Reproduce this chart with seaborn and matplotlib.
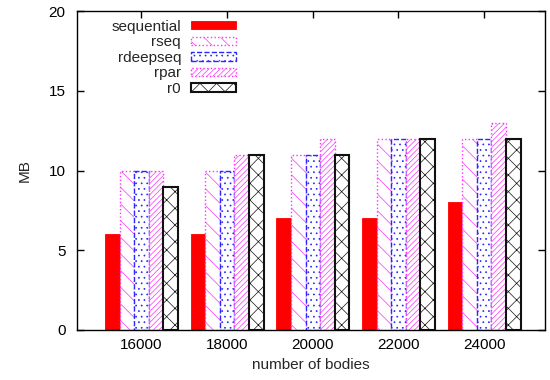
import matplotlib
matplotlib.use("Agg")
import matplotlib.pyplot as plt
import seaborn as sns
import pandas as pd
from matplotlib.patches import Patch

bodies = ["16000", "18000", "20000", "22000", "24000"]
series = ["sequential", "rseq", "rdeepseq", "rpar", "r0"]
sequential = [6, 6, 7, 7, 8]
rseq = [10, 10, 11, 12, 12]
rdeepseq = [10, 10, 11, 12, 12]
rpar = [10, 11, 12, 12, 13]
r0 = [9, 11, 11, 12, 12]
values = {"sequential": sequential, "rseq": rseq, "rdeepseq": rdeepseq,
          "rpar": rpar, "r0": r0}

rows = []
for s in series:
    for b, v in zip(bodies, values[s]):
        rows.append({"bodies": b, "series": s, "MB": v})
df = pd.DataFrame(rows)

sns.set_style("ticks")
plt.rcParams['font.family'] = ['Liberation Sans', 'DejaVu Sans']
plt.rcParams['hatch.linewidth'] = 0.5

styles = {
    "sequential": dict(facecolor="#ff0000", edgecolor="#ff0000", hatch=None, linestyle="-", linewidth=0.6),
    "rseq": dict(facecolor="white", edgecolor="#ff30ff", hatch="\\\\", linestyle=":", linewidth=1.0),
    "rdeepseq": dict(facecolor="white", edgecolor="#2828ff", hatch="...", linestyle="--", linewidth=1.0),
    "rpar": dict(facecolor="white", edgecolor="#ff30ff", hatch="//////", linestyle=":", linewidth=1.0),
    "r0": dict(facecolor="white", edgecolor="#111111", hatch="xx", linestyle="-", linewidth=1.5),
}

fig = plt.figure(figsize=(5.5, 3.8), dpi=100)
ax = fig.add_axes([0.1395, 0.1316, 0.852, 0.839])

sns.barplot(data=df, x="bodies", y="MB", hue="series", order=bodies,
            hue_order=series, width=0.85, ax=ax, legend=False, errorbar=None,
            saturation=1)

for s, cont in zip(series, ax.containers):
    st = styles[s]
    for p in cont:
        p.set_facecolor(st["facecolor"])
        p.set_edgecolor(st["edgecolor"])
        p.set_linestyle(st["linestyle"])
        p.set_linewidth(st["linewidth"])
        if st["hatch"]:
            p.set_hatch(st["hatch"])

ax.set_xlim(-0.756, 4.714)
ax.set_ylim(0, 20)
ax.set_yticks([0, 5, 10, 15, 20])
ax.set_xlabel("number of bodies", fontsize=11, labelpad=4)
ax.set_ylabel("MB", fontsize=11, labelpad=12)
ax.tick_params(direction="in", length=5, width=1, top=True, right=True,
               labelsize=11, colors="black")
ax.tick_params(axis="x", pad=6)
ax.tick_params(axis="y", pad=8)
for sp in ax.spines.values():
    sp.set_visible(True)
    sp.set_linewidth(1.0)
    sp.set_color("black")

handles = []
for s in series:
    st = styles[s]
    handles.append(Patch(facecolor=st["facecolor"], edgecolor=st["edgecolor"],
                         hatch=st["hatch"], linestyle=st["linestyle"],
                         linewidth=st["linewidth"], label=s))
ax.legend(handles=handles, loc="upper right", bbox_to_anchor=(0.34, 0.973),
          frameon=False, markerfirst=False, fontsize=11, handlelength=2.95,
          handleheight=0.46, labelspacing=0.1, handletextpad=0.65,
          borderaxespad=0.0, borderpad=0.0)

fig.savefig("out.png", dpi=100)
